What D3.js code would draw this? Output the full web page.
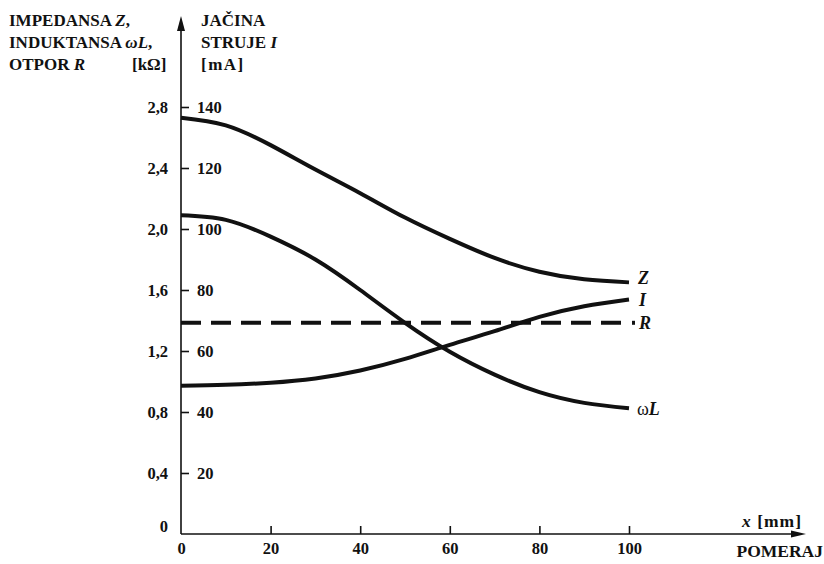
<!DOCTYPE html>
<html><head><meta charset="utf-8">
<script src="https://cdn.jsdelivr.net/npm/d3@7/dist/d3.min.js"></script>
<style>
html,body{margin:0;padding:0;background:#fff;}
svg text{font-family:"Liberation Serif","Times New Roman",serif;font-weight:bold;fill:#111;}
</style></head>
<body><svg id="c" width="824" height="564"></svg>
<script>
// ---- data ----
const xPos = [0, 10, 20, 30, 40, 50, 60, 70, 80, 90, 100];           // pomeraj x [mm]
const Z    = [2.73, 2.68, 2.55, 2.39, 2.235, 2.075, 1.935, 1.81, 1.72, 1.67, 1.65]; // kΩ
const wL   = [2.09, 2.06, 1.95, 1.80, 1.60, 1.385, 1.195, 1.045, 0.93, 0.86, 0.825]; // kΩ
const I    = [48.6, 48.9, 49.6, 51.0, 53.6, 57.4, 62.0, 66.5, 71.2, 74.7, 76.9]; // mA
const R    = [1.385, 1.385];                                          // kΩ (constant)
const rX   = [0, 100];
const kTicks  = [0, 0.4, 0.8, 1.2, 1.6, 2.0, 2.4, 2.8];
const mATicks = [20, 40, 60, 80, 100, 120, 140];
const xTicks  = [0, 20, 40, 60, 80, 100];

const svg = d3.select("#c");
const x  = d3.scaleLinear().domain([0, 100]).range([181, 629]);
const yk = d3.scaleLinear().domain([0, 2.8]).range([534, 107]);
const yI = d3.scaleLinear().domain([0, 140]).range([534, 107]);
const ink = "#111";

// axes lines with arrows
svg.append("line").attr("x1", x(0)).attr("x2", x(0)).attr("y1", 534).attr("y2", 30)
  .attr("stroke", ink).attr("stroke-width", 1.6);
svg.append("path").attr("d", `M${x(0)},16 L${x(0)-4},31 L${x(0)+4},31 Z`).attr("fill", ink);
svg.append("line").attr("x1", x(0)).attr("x2", 793).attr("y1", 534).attr("y2", 534)
  .attr("stroke", ink).attr("stroke-width", 1.6);
svg.append("path").attr("d", `M806,534 L791,530.5 L791,537.5 Z`).attr("fill", ink);

const fmtK = d => d === 0 ? "0" : d3.format(".1f")(d).replace(".", ",");

// left (kΩ) labels
const gl = svg.append("g").attr("transform", `translate(${x(0)},0)`)
  .call(d3.axisLeft(yk).tickValues(kTicks).tickSize(0).tickPadding(13).tickFormat(fmtK));
gl.select(".domain").remove();
gl.selectAll("text").style("font-size", "16.5px").style("font-family", null)
  .attr("dy", d => d === 0 ? "-0.15em" : "0.32em");

// right (mA) labels with small ticks
const gr = svg.append("g").attr("transform", `translate(${x(0)},0)`)
  .call(d3.axisRight(yI).tickValues(mATicks).tickSize(8).tickPadding(8));
gr.select(".domain").remove();
gr.selectAll("line").attr("stroke", ink).attr("stroke-width", 1.6);
gr.selectAll("text").style("font-size", "16.5px").style("font-family", null);

// bottom axis
const gb = svg.append("g").attr("transform", `translate(0,534)`)
  .call(d3.axisBottom(x).tickValues(xTicks).tickSizeInner(-8).tickSizeOuter(0).tickPadding(8));
gb.select(".domain").remove();
gb.selectAll("line").attr("stroke", ink).attr("stroke-width", 1.6).filter(d => d === 0).remove();
gb.selectAll("text").style("font-size", "16.5px").style("font-family", null);

// curves
const lineK = arr => d3.line().x((d, i) => x(xPos[i])).y(d => yk(d)).curve(d3.curveNatural)(arr);
const lineI = d3.line().x((d, i) => x(xPos[i])).y(d => yI(d)).curve(d3.curveNatural);
svg.append("path").attr("d", lineK(Z)).attr("fill", "none").attr("stroke", ink).attr("stroke-width", 4);
svg.append("path").attr("d", lineK(wL)).attr("fill", "none").attr("stroke", ink).attr("stroke-width", 4);
svg.append("path").attr("d", lineI(I)).attr("fill", "none").attr("stroke", ink).attr("stroke-width", 4);
svg.append("path").attr("d", d3.line().x((d, i) => x(rX[i])).y(d => yk(d))(R))
  .attr("fill", "none").attr("stroke", ink).attr("stroke-width", 4).attr("stroke-dasharray", "20,10");
svg.append("rect").attr("x", x(100) + 3).attr("y", yk(R[1]) - 2).attr("width", 3).attr("height", 4).attr("fill", ink);

// text helper
function lab(px, py, parts, size, anchor, spacing) {
  const t = svg.append("text").attr("x", px).attr("y", py).style("font-size", (size || 17.5) + "px")
    .attr("text-anchor", anchor || "start");
  if (spacing) t.style("letter-spacing", spacing + "px");
  parts.forEach(p => t.append("tspan").text(p[0]).style("font-style", p[1] ? "italic" : "normal")
    .style("font-weight", p[2] === false ? "normal" : "bold"));
}
// curve labels
lab(638, yk(Z[10]) + 2, [["Z", true]], 18);
lab(639, yI(I[10]) + 7, [["I", true]], 18);
lab(639, yk(R[1]) + 6, [["R", true]], 18);
lab(637, yk(wL[10]) + 7, [["ω", false, false], ["L", true]], 18);

// axis titles
lab(9, 26, [["IMPEDANSA ", false], ["Z", true], [",", false]], 17);
lab(9, 48, [["INDUKTANSA ", false], ["ωL", true], [",", false]], 17);
lab(9, 70, [["OTPOR ", false], ["R", true]], 17);
lab(132, 70, [["[kΩ]", false]], 17);
lab(201, 26, [["JAČINA", false]], 17);
lab(201, 48, [["STRUJE ", false], ["I", true]], 17);
lab(201, 70, [["[mA]", false]], 17, "start", 1.5);
lab(802, 527, [["x", true], [" [mm]", false]], 17.5, "end", 1);
lab(823, 557, [["POMERAJ", false]], 17.5, "end");
</script></body></html>
